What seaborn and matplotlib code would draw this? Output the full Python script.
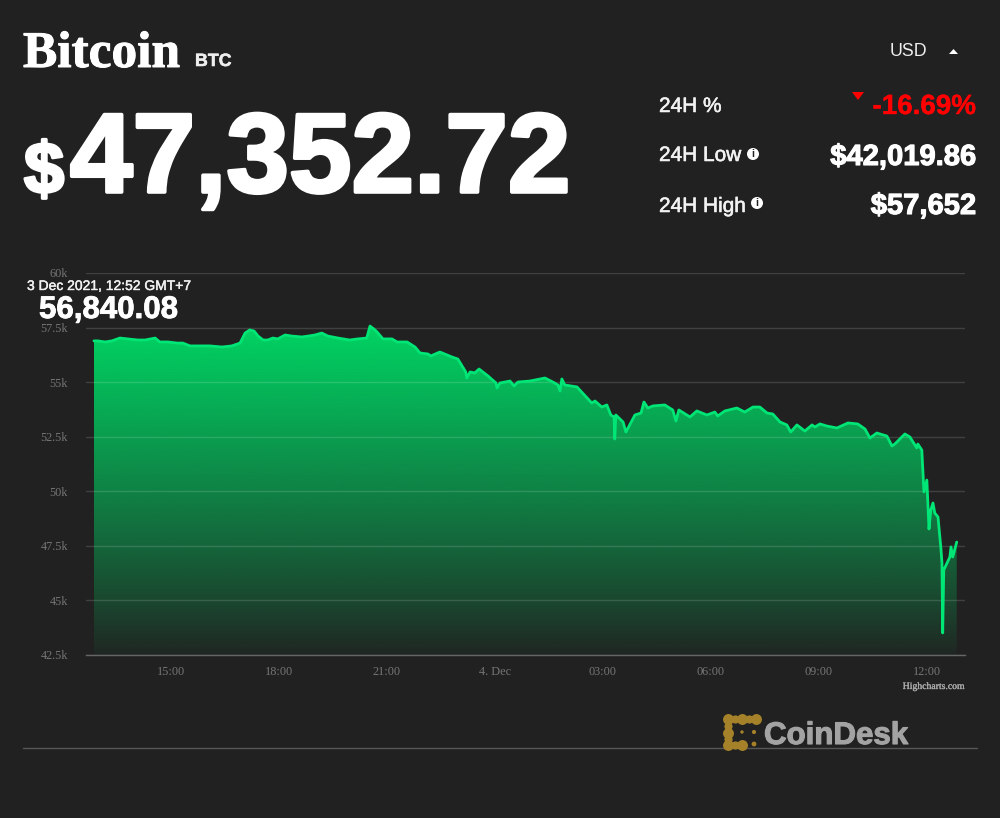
import numpy as np
import pandas as pd
import matplotlib
matplotlib.use("Agg")
import matplotlib.pyplot as plt
import matplotlib.patheffects as pe
from matplotlib.patches import Polygon, Circle
import seaborn as sns

# hours since 3 Dec 00:00
hours = [12.86,12.97,13.17,13.36,13.58,13.81,14.08,14.28,14.56,14.69,14.92,15.17,15.33,15.53,15.86,16.08,
 16.42,16.69,16.92,17.06,17.19,17.31,17.42,17.56,17.69,17.83,17.97,18.17,18.36,18.64,18.81,19.00,19.19,
 19.36,19.64,19.97,20.19,20.44,20.53,20.67,20.75,20.89,21.14,21.28,21.56,21.78,21.92,22.14,22.22,22.47,
 22.81,22.97,23.19,23.22,23.31,23.44,23.56,23.81,24.03,24.06,24.14,24.42,24.53,24.64,24.97,25.39,25.61,
 25.75,25.81,25.86,25.94,26.28,26.56,26.69,26.78,26.97,27.11,27.22,27.31,27.33,27.36,27.56,27.64,27.89,
 28.06,28.14,28.25,28.39,28.72,28.94,29.03,29.11,29.42,29.61,29.89,30.11,30.19,30.39,30.72,30.94,31.17,
 31.36,31.56,31.72,31.92,32.11,32.22,32.39,32.61,32.81,32.89,33.03,33.22,33.50,33.81,34.08,34.28,34.42,
 34.61,34.89,35.03,35.11,35.39,35.53,35.72,35.75,35.86,35.92,36.00,36.06,36.11,36.17,36.22,36.31,36.39,
 36.42,36.44,36.47,36.56,36.64,36.67,36.72,36.83]
prices = [56890,56890,56840,56890,57020,56980,56930,56930,57020,56840,56840,56790,56790,56660,56660,56660,
 56610,56660,56790,57250,57390,57340,57110,56930,56930,57020,56980,57160,57110,57070,57110,57160,57250,
 57110,57020,56930,56980,57020,57570,57390,57250,56980,56980,56840,56840,56610,56335,56290,56200,56380,
 56150,56060,55465,55190,55465,55420,55600,55280,54960,54730,54960,55050,54825,55005,55050,55190,55005,
 54870,54595,55145,54870,54780,54275,54045,54135,53860,53955,53495,53405,52395,53495,53175,52715,53495,
 53585,54090,53815,53910,53955,53725,53220,53725,53405,53680,53495,53630,53450,53680,53815,53630,53860,
 53860,53585,53540,53175,53040,52715,53040,52760,53040,52945,53085,52990,52900,53130,53085,52855,52440,
 52670,52530,52075,52165,52625,52485,51985,52165,51890,49970,50515,48270,49145,49465,49005,48820,47400,
 46715,43510,46395,46715,46990,47450,46990,47675]

y_ticks = [42500,45000,47500,50000,52500,55000,57500,60000]
y_labels = ["42.5k","45k","47.5k","50k","52.5k","55k","57.5k","60k"]
x_ticks = [15,18,21,24,27,30,33,36]
x_labels = ["15:00","18:00","21:00","4. Dec","03:00","06:00","09:00","12:00"]

name = "Bitcoin"; symbol = "BTC"; currency = "USD"; price_text = "47,352.72"
stats_labels = ["24H %","24H Low","24H High"]
stats_values = ["-16.69%","$42,019.86","$57,652"]
tooltip_date = "3 Dec 2021, 12:52 GMT+7"; tooltip_value = "56,840.08"

BG = "#212121"
sns.set_theme(style="dark", rc={"figure.facecolor": BG, "axes.facecolor": BG, "savefig.facecolor": BG})
plt.rcParams["font.family"] = ["Liberation Sans", "DejaVu Sans"]

def heavy(txt, w, col="white"):
    txt.set_path_effects([pe.withStroke(linewidth=w, foreground=col)])
    return txt

fig = plt.figure(figsize=(10, 8.18), dpi=100)
ax = fig.add_axes([0.086, (818-655)/818, 0.879, 382/818])
df = pd.DataFrame({"hours": hours, "price": prices})

poly = ax.fill_between(df["hours"], df["price"], 42500, color="none", lw=0)
n = 256
grad = np.zeros((n, 1, 4))
grad[..., 1] = 214/255; grad[..., 2] = 100/255
grad[:, 0, 3] = np.linspace(1, 0.02, n) ** 0.9
im = ax.imshow(grad, extent=[df["hours"].min(), df["hours"].max(), 42500, 57700],
               aspect="auto", origin="upper", zorder=1)
im.set_clip_path(poly.get_paths()[0], transform=ax.transData)

sns.lineplot(data=df, x="hours", y="price", ax=ax, color="#00E676", lw=2.0,
             estimator=None, sort=False, zorder=3, solid_joinstyle="round")

ax.set_xlim(12.64, 37.06)
ax.set_ylim(42500, 60000)
ax.set_xticks(x_ticks, x_labels)
ax.set_yticks(y_ticks, y_labels)
ax.set_xlabel(""); ax.set_ylabel("")
ax.tick_params(axis="x", length=0, pad=8, labelsize=8.8, labelcolor="#757575")
ax.tick_params(axis="y", length=0, pad=13, labelsize=8.8, labelcolor="#757575")
for lab in ax.get_xticklabels() + ax.get_yticklabels():
    lab.set_fontfamily("Liberation Serif")
ax.grid(axis="y", color="white", alpha=0.14, lw=1, zorder=2)
ax.grid(axis="x", visible=False)
ax.set_axisbelow(False)
for s in ["top", "left", "right"]:
    ax.spines[s].set_visible(False)
ax.spines["bottom"].set_color("#666666")
ax.spines["bottom"].set_linewidth(1)

ov = fig.add_axes([0, 0, 1, 1], facecolor="none")
ov.set_xlim(0, 1000); ov.set_ylim(818, 0); ov.axis("off")

heavy(ov.text(23, 67, name, family="Liberation Serif", weight="bold", size=37, color="white", va="baseline"), 0.7)
heavy(ov.text(195, 66, symbol, weight="bold", size=12.8, color="#eeeeee", va="baseline"), 0.4, "#eeeeee")
heavy(ov.text(24, 193, "$", weight="bold", size=52, color="white", va="baseline"), 2.2)
heavy(ov.text(70, 192, price_text, weight="bold", size=81, color="white", va="baseline"), 2.6)
ov.text(890, 56, currency, size=12.8, color="#eeeeee", va="baseline")
ov.add_patch(Polygon([[949, 54], [958, 54], [953.5, 49]], closed=True, color="white", lw=0))

for lab, base in zip(stats_labels, [112, 161, 212]):
    heavy(ov.text(659, base, lab, size=15, color="#f2f2f2", va="baseline"), 0.4, "#f2f2f2")
heavy(ov.text(976, 114, stats_values[0], size=20, weight="bold", color="#ff0000", ha="right", va="baseline"), 0.3, "#ff0000")
heavy(ov.text(976, 165, stats_values[1], size=21, weight="bold", color="white", ha="right", va="baseline"), 0.8)
heavy(ov.text(976, 214, stats_values[2], size=21, weight="bold", color="white", ha="right", va="baseline"), 0.8)
ov.add_patch(Polygon([[852, 92], [864, 92], [858, 100]], closed=True, color="#ff0000", lw=0))
for cx, cy in [(753, 154), (757, 203)]:
    ov.add_patch(Circle((cx, cy), 6, color="white", lw=0))
    ov.text(cx, cy+0.3, "i", size=7.5, weight="bold", color=BG, ha="center", va="center")

heavy(ov.text(27, 286, tooltip_date, size=10, color="#f2f2f2", va="center"), 0.3, "#f2f2f2")
heavy(ov.text(39, 318, tooltip_value, size=22.5, weight="bold", color="white", va="baseline"), 0.6)

heavy(ov.text(965, 689, "Highcharts.com", family="Liberation Serif", size=7, color="#aaaaaa", ha="right", va="baseline"), 0.2, "#aaaaaa")

ov.plot([23, 977], [748, 748], color="#565656", lw=1, zorder=1)
gold = "#A5822A"
logo_x = [756, 742, 728, 728, 728, 742]
logo_y = [719, 719, 719, 733, 745, 745]
ov.plot(logo_x, logo_y, color=gold, lw=3.5, solid_joinstyle="round", zorder=2)
ov.scatter(logo_x, logo_y, s=62, color=gold, lw=0, zorder=2)
ov.scatter([735, 749, 728, 728, 735], [719, 719, 726, 739, 745], s=35, color=gold, lw=0, zorder=2)
ov.scatter([742, 754, 754], [732, 732, 744], s=[6, 9, 12], color=gold, lw=0, zorder=2)
heavy(ov.text(764, 744, "CoinDesk", size=22.5, weight="bold", color="#a3a3a3", va="baseline", zorder=3), 0.8, "#a3a3a3")

fig.savefig("out.png", dpi=100, facecolor=BG)
